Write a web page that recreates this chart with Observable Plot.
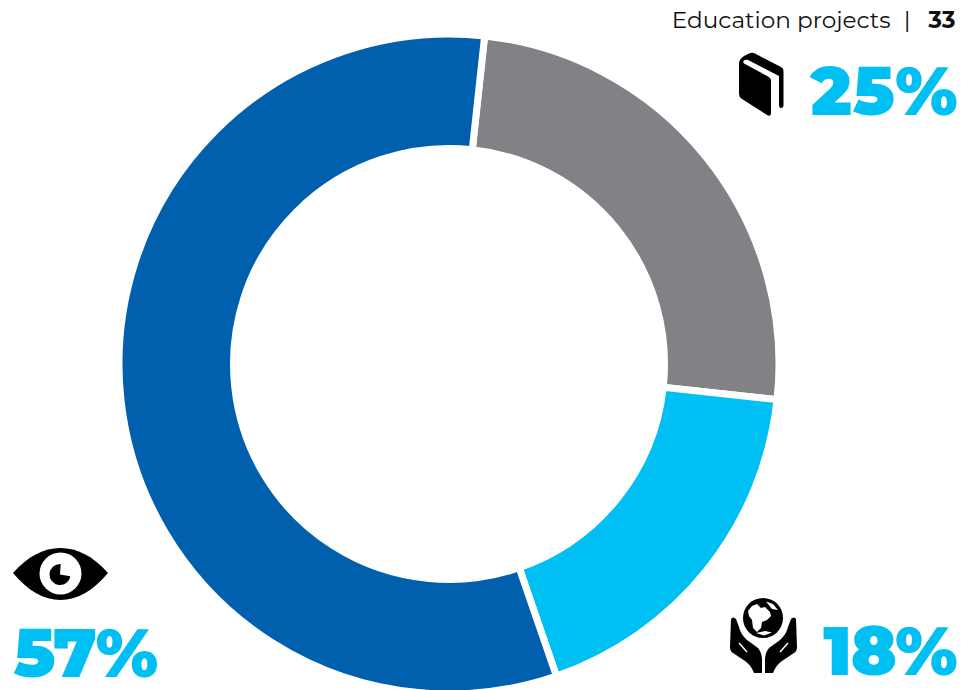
<!DOCTYPE html>
<html>
<head>
<meta charset="utf-8">
<script src="https://cdn.jsdelivr.net/npm/d3@7"></script>
<script src="https://cdn.jsdelivr.net/npm/@observablehq/plot@0.6"></script>
<style>
  html, body { margin: 0; padding: 0; background: #fff; }
  svg { display: block; }
</style>
</head>
<body>
<div id="chart"></div>
<script>
// Share of education projects by theme, clockwise from the top of the ring.
const themes = ["Books", "Global aid", "Vision"];
const shares = [25, 18, 57];
const colors = ["#808285", "#00BFF3", "#0060AE"];
const pageTitle = "Education projects";
const pageNumber = "33";

const projects = themes.map((theme, i) => ({theme, share: shares[i]}));

const W = 976, H = 690;
const CX = 449, CY = 364;
const OUTER = 330, INNER = 215.5;
const ROTATE = 6.2 * Math.PI / 180;
const PCT_FONT = "Montserrat, Inter, sans-serif";

// Stacked bars turned into ring segments: the x scale maps percent to radians.
function ringSegments(index, scales, channels, dimensions, context) {
  const g = d3.select(context.document.createElementNS("http://www.w3.org/2000/svg", "g"))
    .attr("transform", `translate(${CX},${CY})`);
  const arc = d3.arc().innerRadius(INNER).outerRadius(OUTER);
  for (const i of index) {
    g.append("path")
      .attr("d", arc({startAngle: channels.x1[i] + ROTATE, endAngle: channels.x2[i] + ROTATE}))
      .attr("fill", channels.fill[i])
      .attr("stroke", "#fff")
      .attr("stroke-width", 7);
  }
  return g.node();
}

// Pictograms beside the percentages.
function pictograms(index, scales, values, dimensions, context) {
  const g = d3.select(context.document.createElementNS("http://www.w3.org/2000/svg", "g"));
  const path = (d, fill = "#000") => g.append("path").attr("d", d).attr("fill", fill);

  // Book
  path("M739 64 Q739 59 744 56 L749 53.5 Q752 52 755 53.5 L781 67 Q783.5 68 783.5 71 L783.5 105 Q783.5 108 781 108 Q779 108 779 105 L779 80 L771 80 L771 113 Q771 117 767 115 L742 99 Q739 97 739 94 Z");
  path("M744 63.5 Q742 61 745 60 Q747 59 750 61 L779 76 L779 80 L771 80 Q771 78 768 76.5 Z", "#fff");

  // Eye
  path("M13 573 C28 556 44 548 60.5 548 C77 548 93 556 108 573 C93 591 77 600 60.5 600 C44 600 28 591 13 573 Z");
  g.append("circle").attr("cx", 60.5).attr("cy", 573.5).attr("r", 21).attr("fill", "#fff");
  g.append("path")
    .attr("transform", "translate(60,574.5)")
    .attr("d", d3.arc().innerRadius(0).outerRadius(10.5)({startAngle: Math.PI * 0.55, endAngle: Math.PI * 2.02}))
    .attr("fill", "#000");

  // Hands holding a globe
  g.append("circle").attr("cx", 763).attr("cy", 618).attr("r", 20).attr("fill", "#000");
  path("M748 611 L752 606 L757 604 L761 608 L765 607 L770 612 L771 616 L767 620 L762 622 L761 628 L757 632 L753 628 L752 620 L749 616 Z", "#fff");
  path("M766 601.5 L773 604 L778 610 L772 609 Z", "#fff");
  path("M756 633 L765 631 L772 632.5 L764 635.5 Z", "#fff");
  const hand = "M731 619 Q733 616 736 619 L739 627 Q741 635 747 640 L758 648 Q762 653 762 660 L762 673 L754 673 Q751 665 745 661 L733 653 Q730 651 730 647 Z";
  const crease = "M739 643 L747 652";
  for (const flip of ["", "translate(1527,0) scale(-1,1)"]) {
    g.append("path").attr("d", hand).attr("fill", "#000").attr("transform", flip);
    g.append("path").attr("d", crease).attr("stroke", "#fff").attr("stroke-width", 1.5).attr("fill", "none").attr("transform", flip);
  }
  return g.node();
}

// Large percentage figure placed relative to the frame's top-left corner.
const pct = (i, dx, dy, textAnchor, tracking) => Plot.text([`${shares[i]}%`], {
  text: d => d,
  frameAnchor: "top-left",
  dx, dy, textAnchor,
  lineAnchor: "middle",
  fontFamily: PCT_FONT,
  fontWeight: 900,
  fontSize: 68,
  fill: colors[1],
  render(index, scales, values, dimensions, context, next) {
    const node = next(index, scales, values, dimensions, context);
    node.setAttribute("letter-spacing", tracking);
    return node;
  }
});

const header = (text, dx, fontWeight) => Plot.text([text], {
  text: d => d,
  frameAnchor: "top-left",
  dx, dy: 20,
  textAnchor: "end",
  lineAnchor: "middle",
  fontFamily: "Montserrat, Inter, sans-serif",
  fontSize: 23.2,
  fontWeight,
  fill: "#111"
});

const chart = Plot.plot({
  width: W,
  height: H,
  margin: 0,
  x: {domain: [0, 100], range: [0, 2 * Math.PI], axis: null},
  color: {domain: themes, range: colors},
  marks: [
    Plot.barX(projects, {x: "share", fill: "theme", render: ringSegments}),
    pictograms,
    header(pageTitle, 890, 400),
    header("|", 910, 400),
    header(pageNumber, 955, 700),
    pct(0, 958, 92.5, "end", 1),
    pct(1, 956, 653, "end", -1),
    pct(2, 13, 655, "start", -1.8)
  ]
});

document.getElementById("chart").append(chart);
</script>
</body>
</html>
